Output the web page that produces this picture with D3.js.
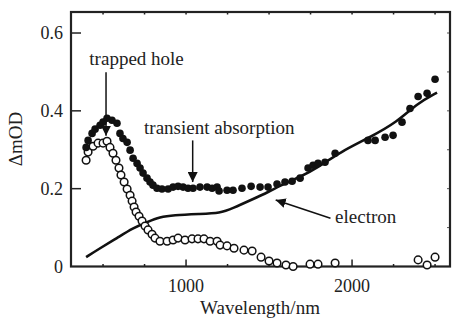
<!DOCTYPE html>
<html>
<head>
<meta charset="utf-8">
<script src="https://cdn.jsdelivr.net/npm/d3@7"></script>
<style>
  body { margin: 0; background: #fff; }
  text { font-family: "Liberation Serif", "Times New Roman", serif; fill: #222; }
</style>
</head>
<body>
<div id="chart"></div>
<script>
// transient absorption (filled dots)
var absWl = [398, 410, 434, 452, 482, 500, 524, 554, 584, 602, 620, 645, 663, 681, 705, 723, 741, 765, 783, 801,
  825, 855, 892, 922, 952, 982, 1012, 1042, 1084, 1127, 1157, 1187, 1199, 1247, 1283, 1337, 1392, 1446, 1494,
  1548, 1596, 1639, 1687, 1735, 1765, 1795, 1837, 1898, 2096, 2139, 2199, 2247, 2301, 2349, 2398, 2452, 2500];
var absVal = [0.306, 0.324, 0.342, 0.353, 0.363, 0.371, 0.381, 0.376, 0.368, 0.342, 0.329, 0.319, 0.299, 0.278,
  0.265, 0.253, 0.240, 0.227, 0.217, 0.209, 0.201, 0.199, 0.199, 0.204, 0.206, 0.204, 0.201, 0.201, 0.204, 0.204,
  0.201, 0.204, 0.194, 0.196, 0.196, 0.201, 0.206, 0.204, 0.204, 0.212, 0.217, 0.219, 0.227, 0.253, 0.260, 0.265,
  0.268, 0.291, 0.324, 0.324, 0.332, 0.337, 0.371, 0.406, 0.437, 0.445, 0.481];

// trapped hole (open circles)
var holeWl = [398, 410, 440, 470, 500, 524, 542, 560, 578, 596, 608, 627, 645, 663, 675, 687, 699, 717, 735, 753,
  771, 795, 813, 843, 886, 922, 952, 994, 1036, 1072, 1108, 1145, 1187, 1205, 1247, 1289, 1349, 1398, 1452, 1500,
  1548, 1602, 1645, 1747, 1795, 1898, 2398, 2452, 2500];
var holeVal = [0.273, 0.294, 0.309, 0.317, 0.317, 0.322, 0.306, 0.291, 0.273, 0.253, 0.235, 0.217, 0.199, 0.183,
  0.168, 0.153, 0.140, 0.129, 0.117, 0.104, 0.094, 0.083, 0.073, 0.065, 0.065, 0.068, 0.073, 0.068, 0.071, 0.071,
  0.071, 0.065, 0.065, 0.055, 0.053, 0.047, 0.042, 0.040, 0.024, 0.014, 0.009, 0.004, 0.000, 0.006, 0.006, 0.009,
  0.017, 0.004, 0.024];

// electron (solid line)
var elecWl = [398, 482, 584, 681, 765, 843, 922, 1084, 1205, 1283, 1392, 1494, 1596, 1687, 1789, 1928, 2108, 2271, 2392, 2512];
var elecVal = [0.024, 0.047, 0.073, 0.099, 0.114, 0.127, 0.132, 0.135, 0.137, 0.150, 0.171, 0.191, 0.214, 0.230,
  0.253, 0.294, 0.332, 0.371, 0.419, 0.447];

var yTicks = [0, 0.2, 0.4, 0.6];
var xTicks = [1000, 2000];

var svgWidth = 452, svgHeight = 321;
var margin = { top: 12, right: 2, bottom: 54.5, left: 71 };
var chartWidth = svgWidth - margin.left - margin.right;
var chartHeight = svgHeight - margin.top - margin.bottom;

var svg = d3.select("#chart").append("svg")
  .attr("width", svgWidth)
  .attr("height", svgHeight);

var chartGroup = svg.append("g")
  .attr("transform", `translate(${margin.left}, ${margin.top})`);

var x = d3.scaleLinear().domain([307, 2590]).range([0, chartWidth]);
var y = d3.scaleLinear().domain([0, 0.654]).range([chartHeight, 0]);

// minor ticks
var minorX = d3.range(500, 2501, 250);
var minorY = d3.range(0.1, 0.61, 0.1);

chartGroup.append("g").selectAll("line").data(minorX).enter().append("line")
  .attr("x1", d => x(d)).attr("x2", d => x(d))
  .attr("y1", chartHeight).attr("y2", d => xTicks.indexOf(d) >= 0 ? chartHeight - 7 : chartHeight - 2.5)
  .attr("stroke", "#222").attr("stroke-width", 1.5);
chartGroup.append("g").selectAll("line").data(minorX).enter().append("line")
  .attr("x1", d => x(d)).attr("x2", d => x(d))
  .attr("y1", 0).attr("y2", 2.5)
  .attr("stroke", "#222").attr("stroke-width", 1.5);
chartGroup.append("g").selectAll("line").data(yTicks.slice(1)).enter().append("line")
  .attr("x1", 0).attr("x2", 10)
  .attr("y1", d => y(d)).attr("y2", d => y(d))
  .attr("stroke", "#222").attr("stroke-width", 1.5);
chartGroup.append("g").selectAll("line").data(minorY).enter().append("line")
  .attr("x1", chartWidth).attr("x2", chartWidth - 3)
  .attr("y1", d => y(d)).attr("y2", d => y(d))
  .attr("stroke", "#555").attr("stroke-width", 1);

// frame
chartGroup.append("rect")
  .attr("width", chartWidth).attr("height", chartHeight)
  .attr("fill", "none").attr("stroke", "#222").attr("stroke-width", 2.2);

// tick labels
chartGroup.append("g").selectAll("text").data(yTicks).enter().append("text")
  .attr("x", -8).attr("y", d => y(d)).attr("dy", "0.35em")
  .attr("text-anchor", "end").attr("font-size", "18px")
  .text(d => d === 0 ? "0" : d.toFixed(1));
chartGroup.append("g").selectAll("text").data(xTicks).enter().append("text")
  .attr("x", d => x(d)).attr("y", chartHeight + 25)
  .attr("text-anchor", "middle").attr("font-size", "18px")
  .text(d => d);

// electron line
var elecData = elecWl.map((w, i) => ({ w: w, v: elecVal[i] }));
chartGroup.append("path")
  .datum(elecData)
  .attr("fill", "none").attr("stroke", "#111").attr("stroke-width", 2.6)
  .attr("d", d3.line().x(d => x(d.w)).y(d => y(d.v)).curve(d3.curveBasis));

// open circles
chartGroup.append("g").selectAll("circle")
  .data(holeWl.map((w, i) => ({ w: w, v: holeVal[i] })))
  .enter().append("circle")
  .attr("cx", d => x(d.w)).attr("cy", d => y(d.v)).attr("r", 3.8)
  .attr("fill", "#fff").attr("stroke", "#111").attr("stroke-width", 1.5);

// filled dots
chartGroup.append("g").selectAll("circle")
  .data(absWl.map((w, i) => ({ w: w, v: absVal[i] })))
  .enter().append("circle")
  .attr("cx", d => x(d.w)).attr("cy", d => y(d.v)).attr("r", 3.8)
  .attr("fill", "#111");

// annotations
svg.append("defs").append("marker")
  .attr("id", "head").attr("viewBox", "0 0 10 10")
  .attr("refX", 10).attr("refY", 5)
  .attr("markerWidth", 10).attr("markerHeight", 10)
  .attr("markerUnits", "userSpaceOnUse")
  .attr("orient", "auto")
  .append("path").attr("d", "M0,0 L10,5 L0,10 Z").attr("fill", "#111");

function arrow(x1, y1, x2, y2) {
  chartGroup.append("line")
    .attr("x1", x(x1)).attr("y1", y(y1)).attr("x2", x(x2)).attr("y2", y(y2))
    .attr("stroke", "#111").attr("stroke-width", 1.5)
    .attr("marker-end", "url(#head)");
}
arrow(518, 0.499, 518, 0.336);
arrow(1040, 0.324, 1040, 0.217);
arrow(1870, 0.124, 1540, 0.171);

chartGroup.append("text")
  .attr("x", x(702)).attr("y", y(0.517)).attr("text-anchor", "middle")
  .attr("font-size", "19px").text("trapped hole");
chartGroup.append("text")
  .attr("x", x(1200)).attr("y", y(0.340)).attr("text-anchor", "middle")
  .attr("font-size", "19px").text("transient absorption");
chartGroup.append("text")
  .attr("x", x(1898)).attr("y", y(0.112))
  .attr("font-size", "19px").text("electron");

// axis titles
svg.append("text")
  .attr("transform", "translate(22, 139) rotate(-90)")
  .attr("text-anchor", "middle").attr("font-size", "19px")
  .text("ΔmOD");
svg.append("text")
  .attr("x", 260).attr("y", 314)
  .attr("text-anchor", "middle").attr("font-size", "19px")
  .text("Wavelength/nm");
</script>
</body>
</html>
